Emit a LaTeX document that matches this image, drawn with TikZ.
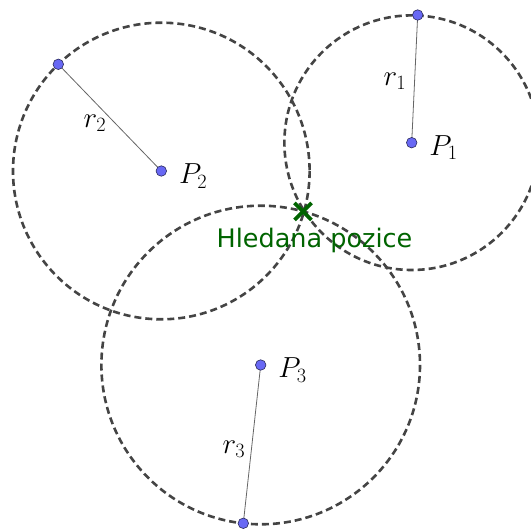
\RequirePackage{fix-cm}
\documentclass[tikz,border=0pt]{standalone}
\usepackage{fontspec}
\newfontfamily\labelfont{DejaVu Sans}
\usetikzlibrary{positioning,backgrounds}
\definecolor{ring}{HTML}{444444}
\definecolor{dotblue}{HTML}{6868F4}
\definecolor{dotline}{HTML}{2A2A5A}
\definecolor{spoke}{HTML}{666666}
\definecolor{mark}{HTML}{006400}
\tikzset{
  circ/.style={draw=ring,line width=2.6pt,dash pattern=on 7pt off 4pt},
  radius line/.style={draw=spoke,line width=0.8pt},
  pt/.style={circle,draw=dotline,fill=dotblue,line width=0.6pt,inner sep=0pt,minimum size=10.5pt},
  lbl/.style={inner sep=0pt,font=\fontsize{29}{34}\selectfont},
  hit/.style={draw=mark,line width=3.8pt},
  hitlbl/.style={inner sep=0pt,text=mark,font=\labelfont\fontsize{25.5}{30}\selectfont}
}
\begin{document}
\begin{tikzpicture}[x=1pt,y=-1pt,node distance=10pt]
\useasboundingbox (0,0) rectangle (531,529);
\clip (0,0) rectangle (531,529);
% centres and points on the circles
\node[pt] (P1) at (411.7,142.7) {};
\node[pt] (A1) at (417.7,15) {};
\node[pt] (P2) at (161.3,171) {};
\node[pt] (A2) at (58.3,64.3) {};
\node[pt] (P3) at (260.7,365) {};
\node[pt] (A3) at (243.3,523.3) {};
\begin{scope}[on background layer]
\draw[circ] (P1.center) circle[radius=127.3];
\draw[circ] (P2.center) circle[radius=148.3];
\draw[circ] (P3.center) circle[radius=159.3];
\draw[radius line] (P1.center) -- (A1.center);
\draw[radius line] (P2.center) -- (A2.center);
\draw[radius line] (P3.center) -- (A3.center);
\end{scope}
% labels
\node[lbl,right=12pt of P1,yshift=-5pt] (P1lab) {$P_1$};
\node[lbl,right=12pt of P2,yshift=-5pt] (P2lab) {$P_2$};
\node[lbl,right=12pt of P3,yshift=-5pt] (P3lab) {$P_3$};
\node[lbl] (r1lab) at (395,81) {$r_1$};
\node[lbl] (r2lab) at (95,123) {$r_2$};
\node[lbl] (r3lab) at (234,449) {$r_3$};
% intersection
\coordinate (X) at (303,211.5);
\draw[hit] ([shift={(-8.5,-8.5)}]X) -- ([shift={(8.5,8.5)}]X);
\draw[hit] ([shift={(-8.5,8.5)}]X) -- ([shift={(8.5,-8.5)}]X);
\node[hitlbl,anchor=base] (Xlab) at (314.5,248) {Hledana pozice};
\end{tikzpicture}
\end{document}
